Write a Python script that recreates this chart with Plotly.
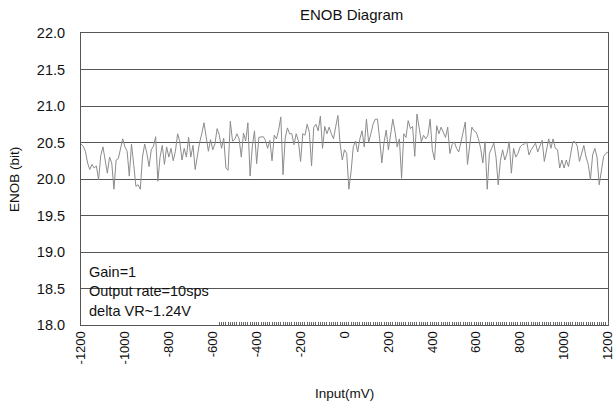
import plotly.graph_objects as go

# Input voltage categories (mV), step 10
input_mv = list(range(-1200, 1201, 10))

# ENOB values (bit)
enob = [
    20.48, 20.45, 20.38, 20.22, 20.13, 20.20, 20.15, 20.18, 19.99, 20.32,   # -1200..-1110
    20.44, 20.28, 20.08, 20.30, 20.22, 19.86, 20.26, 20.28, 20.42, 20.55,   # -1100..-1010
    20.44, 20.38, 20.04, 20.48, 20.20, 19.90, 19.92, 19.86, 20.30, 20.48,   # -1000..-910
    20.35, 20.17, 20.40, 20.45, 20.58, 19.97, 20.30, 20.46, 20.20, 20.44,   # -900..-810
    20.30, 20.42, 20.25, 20.38, 20.62, 20.51, 20.26, 20.42, 20.30, 20.57,   # -800..-710
    20.30, 20.46, 20.13, 20.35, 20.50, 20.62, 20.77, 20.58, 20.38, 20.54,   # -700..-610
    20.40, 20.48, 20.69, 20.60, 20.42, 20.56, 20.15, 20.12, 20.79, 20.52,   # -600..-510
    20.54, 20.62, 20.55, 20.30, 20.63, 20.52, 20.77, 20.04, 20.44, 20.66,   # -500..-410
    20.21, 20.57, 20.57, 20.58, 20.53, 20.42, 20.53, 20.25, 20.60, 20.55,   # -400..-310
    20.67, 20.85, 20.06, 20.56, 20.70, 20.62, 20.62, 20.47, 20.62, 20.52,   # -300..-210
    20.24, 20.62, 20.60, 20.75, 20.64, 20.18, 20.71, 20.75, 20.66, 20.86,   # -200..-110
    20.42, 20.72, 20.62, 20.71, 20.62, 20.55, 20.72, 20.87, 20.48, 20.26,   # -100..-10
    20.40, 20.35, 19.86, 20.10, 20.44, 20.52, 20.37, 20.55, 20.66, 20.44,   # 0..90
    20.82, 20.50, 20.62, 20.75, 20.82, 20.82, 20.55, 20.22, 20.50, 20.67,   # 100..190
    20.40, 20.60, 20.82, 20.65, 20.44, 20.55, 20.01, 20.62, 20.57, 20.80,   # 200..290
    20.69, 20.72, 20.31, 20.89, 20.67, 20.51, 20.60, 20.55, 20.60, 20.82,   # 300..390
    20.40, 20.26, 20.73, 20.62, 20.71, 20.64, 20.57, 20.71, 20.35, 20.47,   # 400..490
    20.51, 20.42, 20.37, 20.50, 20.66, 20.78, 20.20, 20.50, 20.71, 20.66,   # 500..590
    20.64, 20.55, 20.42, 20.22, 20.51, 19.86, 20.35, 20.42, 20.49, 20.30,   # 600..690
    19.92, 20.25, 20.40, 20.26, 20.35, 20.51, 20.08, 20.42, 20.30, 20.35,   # 700..790
    20.44, 20.47, 20.48, 20.51, 20.33, 20.40, 20.45, 20.49, 20.37, 20.45,   # 800..890
    20.53, 20.24, 20.40, 20.55, 20.42, 20.55, 20.42, 20.40, 20.15, 20.26,   # 900..990
    20.15, 20.26, 20.17, 20.35, 20.51, 20.51, 20.45, 20.24, 20.35, 20.46,   # 1000..1090
    20.30, 20.20, 19.99, 20.33, 20.42, 20.30, 19.92, 20.10, 20.31, 20.35,   # 1100..1190
    20.37,                                                                  # 1200
]

x_tickvals = list(range(-1200, 1201, 200))
y_tickvals = [18.0, 18.5, 19.0, 19.5, 20.0, 20.5, 21.0, 21.5, 22.0]
minor_ticks = [v for v in input_mv if v >= -570]

title_text = "ENOB Diagram"
x_title = "Input(mV)"
y_title = "ENOB (bit)"
note_lines = ["Gain=1", "Output rate=10sps", "delta VR~1.24V"]

FONT = "Liberation Sans, Arial, sans-serif"

fig = go.Figure()
fig.add_trace(go.Scatter(
    x=input_mv[:len(enob)], y=enob, mode="lines",
    line=dict(color="#8c8c8c", width=1), showlegend=False,
))

fig.update_layout(
    width=614, height=410,
    margin=dict(l=81, r=6, t=33, b=85),
    paper_bgcolor="white", plot_bgcolor="white",
    font=dict(family=FONT, size=13, color="#111"),
    showlegend=False,
)

fig.update_xaxes(
    range=[-1200, 1200], tickvals=x_tickvals,
    ticktext=[str(v) for v in x_tickvals],
    tickangle=-90, showgrid=False, zeroline=False,
    showline=True, linecolor="#555", linewidth=1, mirror=True,
    ticks="", tickfont=dict(size=13), automargin=False,
    ticklabeloverflow="allow",
    minor=dict(tickvals=minor_ticks, ticks="inside", ticklen=3,
               tickwidth=1, tickcolor="#666", showgrid=False),
)
fig.update_yaxes(
    range=[18, 22], tickvals=y_tickvals,
    ticktext=[f"{v:.1f}" for v in y_tickvals],
    showgrid=True, gridcolor="#555", gridwidth=1, zeroline=False,
    showline=True, linecolor="#555", linewidth=1, mirror=True,
    ticks="", tickfont=dict(size=14.5), automargin=False,
    ticklabelstandoff=12,
)

# white note box covering grid in lower-left corner
fig.add_shape(type="rect", xref="paper", yref="paper",
              x0=0.002, x1=0.262, y0=0.003, y1=0.229,
              fillcolor="white", line=dict(width=0), layer="between")

for txt, yp in zip(note_lines, [0.18, 0.116, 0.048]):
    fig.add_annotation(text=txt, xref="paper", yref="paper", x=0.0114, y=yp,
                       xanchor="left", yanchor="middle", showarrow=False,
                       font=dict(size=14.5, family=FONT, color="#111"))

fig.add_annotation(text=title_text, xref="paper", yref="paper", x=0.514, y=1.062,
                   xanchor="center", yanchor="middle", showarrow=False,
                   font=dict(size=15, family=FONT, color="#111"))
fig.add_annotation(text=x_title, xref="paper", yref="paper", x=0.5, y=-0.233,
                   xanchor="center", yanchor="middle", showarrow=False,
                   font=dict(size=13.5, family=FONT, color="#111"))
fig.add_annotation(text=y_title, xref="paper", yref="paper", x=-0.125, y=0.497,
                   xanchor="center", yanchor="middle", showarrow=False, textangle=-90,
                   font=dict(size=13.5, family=FONT, color="#111"))

fig.write_html("out.html", config={"displayModeBar": False},
               post_script="document.body.style.margin='0';")
